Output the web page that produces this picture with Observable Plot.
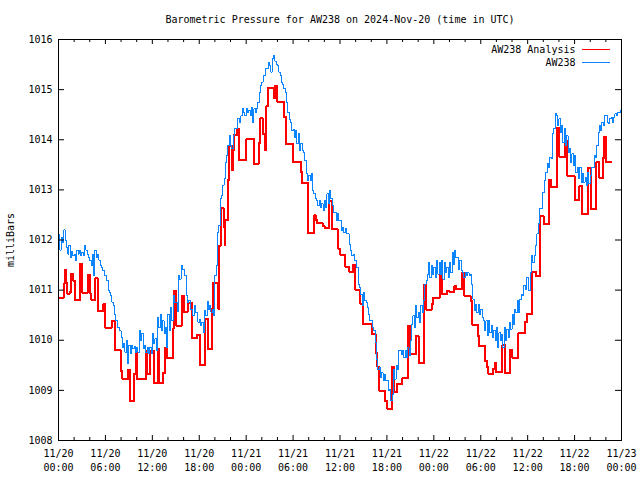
<!DOCTYPE html>
<html>
<head>
<meta charset="utf-8">
<script src="https://cdn.jsdelivr.net/npm/d3@7"></script>
<script src="https://cdn.jsdelivr.net/npm/@observablehq/plot@0.6"></script>
<style>
  html, body { margin: 0; padding: 0; background: #ffffff; }
</style>
</head>
<body>
<div id="chart"></div>
<script>
// ---------------- data ----------------
const title = "Barometric Pressure for AW238 on 2024-Nov-20 (time in UTC)";
const yLabel = "milliBars";
const seriesNames = ["AW238 Analysis", "AW238"];
const seriesColors = ["#ff0000", "#0a84ff"];

// start of the time axis (UTC) and the axis length in hours
const startUTC = Date.UTC(2024, 10, 20, 0, 0);
const spanHours = 72;

// major x ticks (hours after start) and their labels
const xTickHours = [0, 6, 12, 18, 24, 30, 36, 42, 48, 54, 60, 66, 72];
const xTickLabels = [
  "11/20\n00:00", "11/20\n06:00", "11/20\n12:00", "11/20\n18:00",
  "11/21\n00:00", "11/21\n06:00", "11/21\n12:00", "11/21\n18:00",
  "11/22\n00:00", "11/22\n06:00", "11/22\n12:00", "11/22\n18:00",
  "11/23\n00:00"
];
const xMinorStepHours = 2;

// y ticks (milliBars)
const yTicks = [1008, 1009, 1010, 1011, 1012, 1013, 1014, 1015, 1016];

// AW238 Analysis: [hours after start, milliBars] at each step change
const analysisReadings = [
  [0.00, 1010.85], [0.64, 1011.13], [0.81, 1011.41], [0.98, 1011.15], [1.15, 1010.93],
  [1.41, 1010.97], [1.66, 1011.33], [1.83, 1011.19], [2.08, 1010.81], [2.77, 1011.53],
  [3.03, 1010.95], [3.71, 1011.31], [4.05, 1010.93], [4.22, 1010.81], [4.73, 1011.25],
  [4.99, 1010.59], [5.75, 1010.73], [6.01, 1010.25], [6.78, 1010.39], [7.20, 1009.81],
  [7.93, 1009.39], [8.18, 1009.23], [8.86, 1009.41], [9.12, 1008.79], [9.63, 1009.33],
  [9.88, 1009.79], [10.06, 1009.23], [11.16, 1009.79], [11.34, 1009.33], [11.76, 1009.79],
  [12.19, 1009.15], [12.70, 1009.83], [12.88, 1009.15], [13.39, 1009.35], [13.64, 1009.85],
  [13.90, 1009.65], [14.67, 1010.23], [14.74, 1010.99], [15.09, 1010.29], [15.77, 1010.89],
  [16.02, 1010.57], [16.53, 1010.75], [17.05, 1010.05], [17.74, 1010.11], [18.07, 1009.51],
  [18.76, 1010.43], [19.09, 1009.83], [19.60, 1010.63], [19.78, 1011.15], [20.46, 1010.63],
  [20.55, 1011.89], [20.72, 1012.63], [21.14, 1012.25], [21.23, 1011.89], [21.32, 1012.39],
  [21.65, 1013.19], [21.83, 1013.88], [22.16, 1013.39], [22.34, 1013.79], [22.42, 1014.10],
  [22.85, 1014.22], [23.11, 1013.60], [24.04, 1014.02], [24.97, 1013.51], [25.58, 1013.94],
  [25.83, 1014.44], [26.09, 1014.12], [26.38, 1013.80], [26.60, 1014.68], [26.85, 1015.04],
  [27.53, 1014.84], [27.71, 1015.08], [27.97, 1014.76], [28.81, 1014.46], [29.07, 1013.92],
  [29.96, 1013.56], [30.98, 1013.35], [31.16, 1013.13], [31.93, 1012.13], [32.70, 1012.49],
  [32.95, 1012.39], [33.12, 1012.33], [33.80, 1012.27], [34.05, 1012.23], [34.65, 1012.77],
  [35.00, 1012.21], [35.77, 1011.83], [36.02, 1011.71], [36.70, 1011.47], [37.12, 1011.37],
  [37.72, 1011.51], [37.98, 1011.01], [38.58, 1010.73], [38.91, 1010.33], [40.03, 1010.13],
  [40.54, 1009.75], [40.79, 1009.47], [41.05, 1008.99], [41.73, 1008.79], [42.07, 1008.63],
  [42.67, 1009.47], [42.93, 1008.97], [43.26, 1009.13], [43.99, 1009.25], [44.67, 1010.29],
  [45.01, 1009.73], [45.69, 1010.09], [46.04, 1009.55], [46.71, 1011.11], [47.06, 1010.61],
  [47.74, 1010.73], [47.92, 1010.85], [48.76, 1011.35], [49.02, 1010.93], [49.71, 1010.99],
  [49.96, 1010.97], [50.64, 1011.09], [50.81, 1011.03], [51.66, 1011.35], [51.92, 1010.89],
  [52.69, 1010.79], [52.94, 1010.31], [53.62, 1010.09], [53.80, 1009.89], [54.57, 1009.59],
  [54.82, 1009.47], [54.99, 1009.33], [55.59, 1009.43], [55.85, 1009.55], [55.92, 1009.37],
  [56.78, 1009.91], [57.12, 1009.35], [57.71, 1009.81], [58.06, 1009.65], [58.82, 1010.15],
  [59.68, 1010.37], [59.94, 1010.53], [60.61, 1011.37], [61.03, 1011.29], [61.64, 1012.47],
  [62.06, 1012.31], [62.70, 1013.19], [63.04, 1013.05], [63.72, 1014.24], [64.07, 1013.65],
  [64.74, 1013.98], [65.09, 1013.27], [66.02, 1012.79], [66.62, 1013.07], [66.97, 1012.51],
  [67.74, 1013.44], [68.16, 1012.61], [68.76, 1013.55], [69.18, 1013.24], [69.60, 1013.64],
  [69.78, 1014.06], [70.04, 1013.56], [70.72, 1013.56]
];

// AW238 station: one reading every 10 minutes from 11/20 00:00 UTC
const stationStepMinutes = 10;
const stationValues = [
  // 11/20 00:00 - 07:20
  1012.10, 1011.80, 1012.05, 1011.95, 1012.20, 1012.00, 1011.85, 1011.72, 1011.90, 1011.65,
  1011.78, 1011.69, 1011.72, 1011.60, 1011.80, 1011.72, 1011.79, 1011.69, 1011.75, 1011.69,
  1011.89, 1011.80, 1011.72, 1011.65, 1011.59, 1011.50, 1011.72, 1011.30, 1011.80, 1011.65,
  1011.72, 1011.60, 1011.50, 1011.45, 1011.39, 1011.30, 1011.30, 1011.20, 1011.00, 1010.95,
  1010.89, 1010.76, 1010.69, 1010.52, 1010.39, 1010.26,
  // 07:40 - 14:40
  1010.26, 1010.19, 1010.06, 1009.86, 1009.93, 1009.76, 1009.99, 1009.53, 1009.90, 1009.73,
  1009.90, 1009.83, 1009.87, 1009.76, 1009.86, 1009.76, 1010.19, 1009.99, 1010.13, 1009.83,
  1009.90, 1009.76, 1009.86, 1009.73, 1009.86, 1009.73, 1010.13, 1009.93, 1010.03, 1009.79,
  1010.46, 1010.26, 1010.52, 1010.19, 1010.39, 1010.13, 1010.26, 1009.86, 1010.52, 1010.19,
  1010.66, 1010.39, 1010.89, 1010.76,
  // 15:00 - 19:40
  1010.75, 1010.58, 1011.29, 1011.22, 1011.49, 1011.42, 1011.42, 1011.29, 1010.89, 1010.76,
  1010.80, 1010.62, 1010.62, 1010.49, 1010.69, 1010.56, 1010.56, 1010.36, 1010.42, 1010.29,
  1010.36, 1010.16, 1010.60, 1010.49, 1010.78, 1010.62, 1010.69, 1010.56, 1010.62, 1010.49,
  // 20:00 - 29:20
  1011.29, 1011.49, 1012.15, 1012.29, 1012.82, 1012.89, 1013.09, 1013.22, 1013.55, 1013.68,
  1013.88, 1014.08, 1013.88, 1013.82, 1014.08, 1014.22, 1014.22, 1014.42, 1014.42, 1014.35,
  1014.48, 1014.62, 1014.55, 1014.48, 1014.62, 1014.55, 1014.58, 1014.48, 1014.65, 1014.35,
  1014.62, 1014.55, 1014.62, 1014.75, 1014.95, 1015.08, 1015.15, 1015.28, 1015.28, 1015.42,
  1015.42, 1015.55, 1015.48, 1015.35, 1015.62, 1015.69, 1015.57, 1015.50, 1015.48, 1015.35,
  1015.28, 1015.15, 1015.10, 1015.02, 1014.95, 1014.75, 1014.55, 1014.40,
  // 29:40 - 44:00
  1014.35, 1014.18, 1014.20, 1014.05, 1014.18, 1013.92, 1014.12, 1013.78, 1013.92, 1013.78,
  1013.75, 1013.58, 1013.32, 1013.19, 1013.29, 1013.19, 1013.32, 1012.99, 1012.92, 1012.82,
  1012.79, 1012.69, 1012.79, 1012.65, 1012.72, 1012.59, 1012.79, 1012.65, 1012.92, 1012.72,
  1012.99, 1012.82, 1012.69, 1012.55, 1012.55, 1012.39, 1012.52, 1012.39, 1012.39, 1012.19,
  1012.25, 1012.15, 1012.22, 1012.12, 1012.12, 1011.92, 1011.79, 1011.69, 1011.72, 1011.59,
  1011.59, 1011.45, 1011.12, 1011.05, 1010.92, 1010.69, 1010.95, 1010.79, 1010.75, 1010.65,
  1010.52, 1010.39, 1010.39, 1010.25, 1010.20, 1009.95, 1009.62, 1009.42, 1009.45, 1009.25,
  1009.35, 1009.19, 1009.32, 1009.19, 1009.19, 1008.99, 1009.02, 1008.79, 1008.92, 1009.42,
  1009.22, 1009.49, 1009.42, 1009.79, 1009.79, 1009.72, 1009.79, 1009.65,
  // 44:20 - 58:40
  1009.79, 1009.65, 1009.85, 1009.69, 1009.99, 1010.32, 1010.49, 1010.25, 1010.69, 1010.45,
  1010.55, 1010.35, 1010.69, 1010.55, 1010.79, 1011.12, 1011.19, 1011.32, 1011.55, 1011.25,
  1011.49, 1011.32, 1011.45, 1011.25, 1011.59, 1011.32, 1011.55, 1011.32, 1011.59, 1011.22,
  1011.55, 1011.35, 1011.45, 1011.25, 1011.55, 1011.35, 1011.76, 1011.52, 1011.79, 1011.65,
  1011.65, 1011.42, 1011.59, 1011.39, 1011.35, 1011.25, 1011.35, 1011.29, 1011.35, 1011.29,
  1011.32, 1011.12, 1010.82, 1010.59, 1010.72, 1010.55, 1010.72, 1010.52, 1010.62, 1010.45,
  1010.39, 1010.19, 1010.39, 1010.09, 1010.39, 1010.15, 1010.29, 1010.05, 1010.19, 1009.99,
  1010.25, 1009.85, 1010.15, 1009.99, 1010.12, 1009.85, 1010.25, 1009.99, 1010.22, 1010.05,
  1010.35, 1010.22, 1010.52, 1010.32, 1010.62, 1010.55, 1010.79, 1010.55,
  // 59:00 - 72:00
  1010.82, 1010.92, 1010.89, 1011.09, 1011.02, 1011.25, 1011.25, 1010.99, 1011.35, 1011.69,
  1011.55, 1011.69, 1011.89, 1012.12, 1012.32, 1012.62, 1012.62, 1012.95, 1012.95, 1013.18,
  1013.35, 1013.52, 1013.45, 1013.65, 1013.62, 1014.12, 1014.22, 1014.52, 1014.48, 1014.28,
  1014.42, 1014.15, 1014.28, 1013.95, 1014.22, 1013.88, 1014.08, 1013.75, 1013.82, 1013.55,
  1013.72, 1013.48, 1013.68, 1013.35, 1013.45, 1013.22, 1013.45, 1013.15, 1013.32, 1013.15,
  1013.25, 1013.08, 1013.35, 1013.12, 1013.28, 1013.45, 1013.45, 1013.68, 1013.65, 1013.88,
  1014.15, 1014.28, 1014.18, 1014.35, 1014.28, 1014.48, 1014.48, 1014.35, 1014.32, 1014.42,
  1014.45, 1014.35, 1014.45, 1014.52, 1014.48, 1014.55, 1014.55, 1014.58, 1014.62
];

// ---------------- build tables ----------------
const HOUR = 3600 * 1000;
const toDate = h => new Date(startUTC + h * HOUR);

const analysis = analysisReadings.map(([h, v]) => ({time: toDate(h), value: v}));
const station = stationValues.map((v, i) => ({time: toDate(i * stationStepMinutes / 60), value: v}));

const xMajor = xTickHours.map(toDate);
const labelByTime = new Map(xMajor.map((d, i) => [+d, xTickLabels[i]]));
const xMinor = d3.range(0, spanHours + 0.001, xMinorStepHours)
  .filter(h => !xTickHours.includes(h)).map(toDate);

const W = 640, H = 480;
const mL = 58, mR = 19, mT = 39, mB = 40;
const frameW = W - mL - mR;   // 563
const frameH = H - mT - mB;   // 401
const majorLen = 5, minorLen = 3, yTickLen = 6;

// legend sample lines (drawn in frame coordinates)
function legendLines(index, scales, values, dims) {
  const right = dims.width - dims.marginRight;
  const top = dims.marginTop;
  const g = d3.create("svg:g");
  seriesNames.forEach((name, k) => {
    const y = top + 10 + k * 13;
    g.append("line")
      .attr("x1", right - 39).attr("x2", right - 11)
      .attr("y1", y).attr("y2", y)
      .attr("stroke", seriesColors[k])
      .attr("stroke-width", 1)
      .attr("shape-rendering", "crispEdges");
  });
  return g.node();
}

const font = "'DejaVu Sans Mono', 'Liberation Mono', monospace";

const chart = Plot.plot({
  width: W,
  height: H,
  marginLeft: mL,
  marginRight: mR,
  marginTop: mT,
  marginBottom: mB,
  style: {fontFamily: font, fontSize: "10px", color: "#000", background: "#fff", overflow: "visible"},
  x: {type: "utc", domain: [toDate(0), toDate(spanHours)]},
  y: {domain: [yTicks[0], yTicks[yTicks.length - 1]]},
  marks: [
    // series
    Plot.line(analysis, {x: "time", y: "value", curve: "step-after",
      stroke: seriesColors[0], strokeWidth: 2, shapeRendering: "crispEdges"}),
    Plot.line(station, {x: "time", y: "value", curve: "step-after",
      stroke: seriesColors[1], strokeWidth: 1, shapeRendering: "crispEdges"}),

    // inward ticks: bottom and top, major and minor
    Plot.ruleX(xMajor, {x: d => d, insetTop: frameH - majorLen, stroke: "#000"}),
    Plot.ruleX(xMajor, {x: d => d, insetBottom: frameH - majorLen, stroke: "#000"}),
    Plot.ruleX(xMinor, {x: d => d, insetTop: frameH - minorLen, stroke: "#000"}),
    Plot.ruleX(xMinor, {x: d => d, insetBottom: frameH - minorLen, stroke: "#000"}),
    // inward ticks: left and right
    Plot.ruleY(yTicks, {y: d => d, insetRight: frameW - yTickLen, stroke: "#000"}),
    Plot.ruleY(yTicks, {y: d => d, insetLeft: frameW - yTickLen, stroke: "#000"}),

    // axis labels
    Plot.axisX(xMajor, {tickSize: 0, tickPadding: 7, lineHeight: 1.35,
      tickFormat: d => labelByTime.get(+d), label: null, fontSize: 10}),
    Plot.axisY(yTicks, {tickSize: 0, tickPadding: 6, tickFormat: d => String(d), label: null, fontSize: 10}),

    Plot.frame({stroke: "#000", strokeWidth: 1}),

    // title, y label, legend
    Plot.text([title], {frameAnchor: "top", dy: -20, lineAnchor: "middle", textAnchor: "middle", fontSize: 10}),
    Plot.text([yLabel], {frameAnchor: "left", dx: -48, rotate: -90, lineAnchor: "middle", textAnchor: "middle", fontSize: 10}),
    Plot.text([seriesNames[0]], {frameAnchor: "top-right", dx: -46, dy: 10.5,
      textAnchor: "end", lineAnchor: "middle", fontSize: 10}),
    Plot.text([seriesNames[1]], {frameAnchor: "top-right", dx: -46, dy: 23.5,
      textAnchor: "end", lineAnchor: "middle", fontSize: 10}),
    legendLines
  ]
});

document.getElementById("chart").appendChild(chart);
</script>
</body>
</html>
